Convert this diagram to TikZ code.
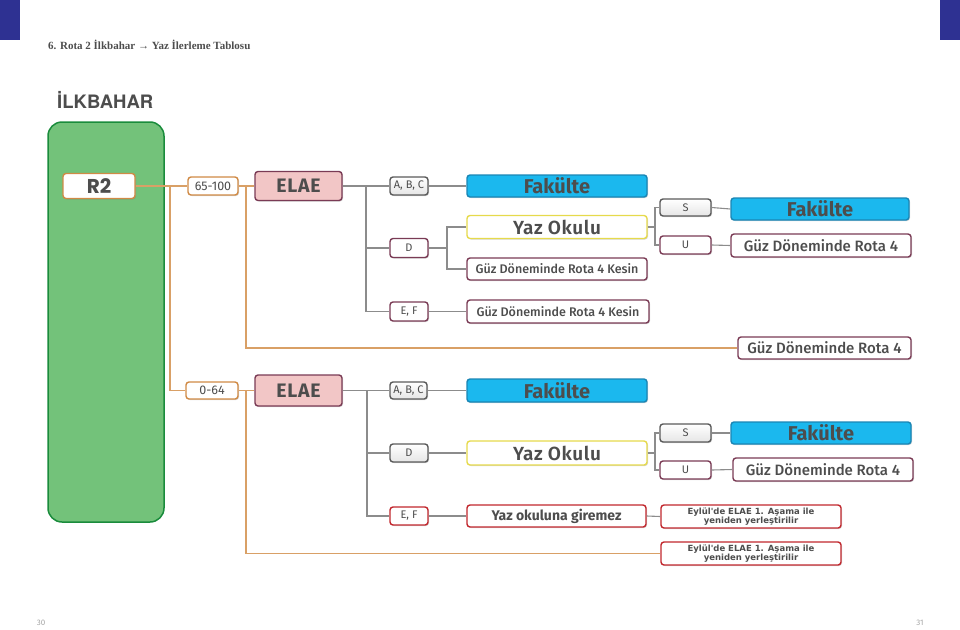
\documentclass[tikz,border=0pt]{standalone}
\usepackage{fontspec}
\setmainfont{Fira Sans}
\newfontfamily\firamed{Fira Sans}[UprightFont=* Medium, BoldFont=* SemiBold]
\newfontfamily\titlefont{Liberation Serif}
\newfontfamily\headfont{TeX Gyre Heros}
\newfontfamily\rfont{Poppins}
\newfontfamily\eyfont{DejaVu Sans}
\usetikzlibrary{shadows}
\definecolor{dblue}{HTML}{2E3192}
\definecolor{gfill}{HTML}{73C27A}
\definecolor{gdraw}{HTML}{1A8C3C}
\definecolor{orng}{HTML}{D08A45}
\definecolor{oline}{HTML}{D9A066}
\definecolor{mar}{HTML}{7A3B55}
\definecolor{pinkf}{HTML}{F2C6C6}
\definecolor{bluef}{HTML}{1BB8EE}
\definecolor{blued}{HTML}{1A86B5}
\definecolor{yell}{HTML}{E6DA4C}
\definecolor{redb}{HTML}{C1272D}
\definecolor{grayb}{HTML}{5A5A5A}
\definecolor{gline}{HTML}{8C8C8C}
\definecolor{txt}{HTML}{4D4D4D}
\tikzset{
  bx/.style={rounded corners=3pt, line width=1.4pt, inner sep=0pt, text=txt,
    drop shadow={shadow xshift=1pt, shadow yshift=-1pt, opacity=0.35}},
  obox/.style={bx, draw=orng, fill=white},
  mbox/.style={bx, draw=mar, fill=white},
  gbox/.style={bx, draw=grayb, top color=white, bottom color=black!10},
  bbox/.style={bx, draw=blued, fill=bluef},
  ybox/.style={bx, draw=yell, fill=white},
  rbox/.style={bx, draw=redb, fill=white},
  pbox/.style={bx, draw=mar, fill=pinkf},
  ol/.style={draw=oline, line width=1.1pt},
  gl/.style={draw=gline, line width=1.1pt},
  small/.style={font=\fontsize{11}{12}\selectfont},
  num/.style={font=\fontsize{12.5}{13}\selectfont},
  big/.style={font=\fontsize{20}{21}\selectfont\bfseries},
  elae/.style={font=\fontsize{19.5}{20}\selectfont\bfseries\addfontfeature{LetterSpace=4}},
  yazf/.style={font=\firamed\fontsize{19}{20}\selectfont\bfseries\addfontfeature{LetterSpace=3}},
  mid/.style={font=\firamed\fontsize{15}{16}\selectfont},
  kes/.style={font=\firamed\fontsize{12.5}{14}\selectfont},
  eyl/.style={font=\eyfont\bfseries\fontsize{8.5}{8}\selectfont, align=center},
}
\begin{document}
\begin{tikzpicture}[x=1pt,y=-1pt]
\useasboundingbox (0,0) rectangle (960,629);
% page decorations
\fill[dblue] (0,0) rectangle (20,40);
\fill[dblue] (940,0) rectangle (960,40);
\node[anchor=base west, inner sep=0pt, text=txt, font=\titlefont\bfseries\fontsize{11}{12}\selectfont] (title) at (48,49) {6. Rota 2 İlkbahar → Yaz İlerleme Tablosu};
\node[anchor=west, inner sep=0pt, text=txt, font=\headfont\bfseries\fontsize{18.5}{20}\selectfont] (head) at (57,100) {İLKBAHAR};
\node[inner sep=0pt, text=black!35, font=\fontsize{8}{9}\selectfont] (p30) at (41,623) {30};
\node[inner sep=0pt, text=black!35, font=\fontsize{8}{9}\selectfont] (p31) at (920,623) {31};
% green column
\node[draw=gdraw, fill=gfill, line width=1.5pt, rounded corners=14pt, minimum width=116pt, minimum height=400pt, inner sep=0pt] (col) at (106,322) {};
% R2
\node[obox, minimum width=72pt, minimum height=25pt, font=\rfont\bfseries\fontsize{20}{20}\selectfont] (r2) at (99,186) {R2};
% ---------- row 65-100 ----------
\node[obox, num, minimum width=50pt, minimum height=18pt] (a65) at (213,186) {65-100};
\node[pbox, elae, minimum width=87pt, minimum height=29pt] (elae1) at (298.5,186) {ELAE};
\node[gbox, small, minimum width=38pt, minimum height=18pt] (abc1) at (409,186) {A, B, C};
\node[bbox, big, minimum width=180pt, minimum height=22pt] (fak1) at (557,186) {Fakülte};
\node[mbox, small, minimum width=38pt, minimum height=19pt] (d1) at (409,248) {D};
\node[ybox, yazf, minimum width=180pt, minimum height=23pt] (yaz1) at (557,227) {Yaz Okulu};
\node[mbox, kes, minimum width=180pt, minimum height=22pt] (kes1) at (557,269) {Güz Döneminde Rota 4 Kesin};
\node[gbox, small, minimum width=51pt, minimum height=17pt] (s1) at (685.5,207.5) {S};
\node[mbox, small, minimum width=51pt, minimum height=18pt] (u1) at (685.5,245) {U};
\node[bbox, big, minimum width=178pt, minimum height=22pt] (fak2) at (820,209) {Fakülte};
\node[mbox, mid, minimum width=180pt, minimum height=23pt] (guz1) at (821,245.5) {Güz Döneminde Rota 4};
\node[mbox, small, minimum width=38pt, minimum height=19pt] (ef1) at (409,311.5) {E, F};
\node[mbox, kes, minimum width=182pt, minimum height=23pt] (kes2) at (558,311.5) {Güz Döneminde Rota 4 Kesin};
\node[mbox, mid, minimum width=173pt, minimum height=22pt] (guz2) at (824.5,348) {Güz Döneminde Rota 4};
% ---------- row 0-64 ----------
\node[obox, num, minimum width=52pt, minimum height=17pt] (a0) at (212,390.5) {0-64};
\node[pbox, elae, minimum width=87pt, minimum height=31pt] (elae2) at (298.5,390.5) {ELAE};
\node[gbox, small, minimum width=37pt, minimum height=17pt] (abc2) at (408.5,390.5) {A, B, C};
\node[bbox, big, minimum width=180pt, minimum height=23pt] (fak3) at (557,390.5) {Fakülte};
\node[gbox, small, minimum width=38pt, minimum height=18pt] (d2) at (409,453) {D};
\node[ybox, yazf, minimum width=180pt, minimum height=24pt] (yaz2) at (557,453) {Yaz Okulu};
\node[gbox, small, minimum width=51pt, minimum height=18pt] (s2) at (685.5,433) {S};
\node[mbox, small, minimum width=51pt, minimum height=18pt] (u2) at (685.5,470) {U};
\node[bbox, big, minimum width=180pt, minimum height=22pt] (fak4) at (821,433) {Fakülte};
\node[mbox, mid, minimum width=180pt, minimum height=23pt] (guz3) at (823,469.5) {Güz Döneminde Rota 4};
\node[rbox, small, minimum width=38pt, minimum height=18pt] (ef2) at (409,516) {E, F};
\node[rbox, font=\fontsize{14}{16}\selectfont\bfseries, minimum width=179pt, minimum height=22pt] (giremez) at (556.5,516) {Yaz okuluna giremez};
\node[rbox, eyl, minimum width=180pt, minimum height=23pt] (eyl1) at (751,516.5) {Eylül'de ELAE 1. Aşama ile\\[-1pt]yeniden yerleştirilir};
\node[rbox, eyl, minimum width=180pt, minimum height=23pt] (eyl2) at (751,553.5) {Eylül'de ELAE 1. Aşama ile\\[-1pt]yeniden yerleştirilir};
% ---------- junctions ----------
\coordinate (j1) at (170,186);
\coordinate (j2) at (246,186);
\coordinate (j3) at (366,186);
\coordinate (j4) at (447,248);
\coordinate (j5) at (655,227);
\coordinate (k2) at (246,390.5);
\coordinate (k3) at (367,390.5);
\coordinate (k5) at (655,453);
% ---------- connectors ----------
\draw[ol] (r2.east) -- (a65.west);
\draw[ol] (j1) |- (a0.west);
\draw[ol] (a65.east) -- (elae1.west);
\draw[ol] (j2) |- (guz2.west);
\draw[gl] (elae1.east) -- (abc1.west);
\draw[gl] (abc1.east) -- (fak1.west);
\draw[gl] (j3) |- (d1.west);
\draw[gl] (j3) |- (ef1.west);
\draw[gl] (d1.east) -- (j4);
\draw[gl] (j4) |- (yaz1.west);
\draw[gl] (j4) |- (kes1.west);
\draw[gl] (yaz1.east) -- (j5);
\draw[gl] (j5) |- (s1.west);
\draw[gl] (j5) |- (u1.west);
\draw[gl] (s1.east) -- (fak2.west);
\draw[gl] (u1.east) -- (guz1.west);
\draw[gl] (ef1.east) -- (kes2.west);
\draw[ol] (a0.east) -- (elae2.west);
\draw[ol] (k2) |- (eyl2.west);
\draw[gl] (elae2.east) -- (abc2.west);
\draw[gl] (abc2.east) -- (fak3.west);
\draw[gl] (k3) |- (d2.west);
\draw[gl] (k3) |- (ef2.west);
\draw[gl] (d2.east) -- (yaz2.west);
\draw[gl] (yaz2.east) -- (k5);
\draw[gl] (k5) |- (s2.west);
\draw[gl] (k5) |- (u2.west);
\draw[gl] (s2.east) -- (fak4.west);
\draw[gl] (u2.east) -- (guz3.west);
\draw[gl] (ef2.east) -- (giremez.west);
\draw[gl] (giremez.east) -- (eyl1.west);
\end{tikzpicture}
\end{document}
